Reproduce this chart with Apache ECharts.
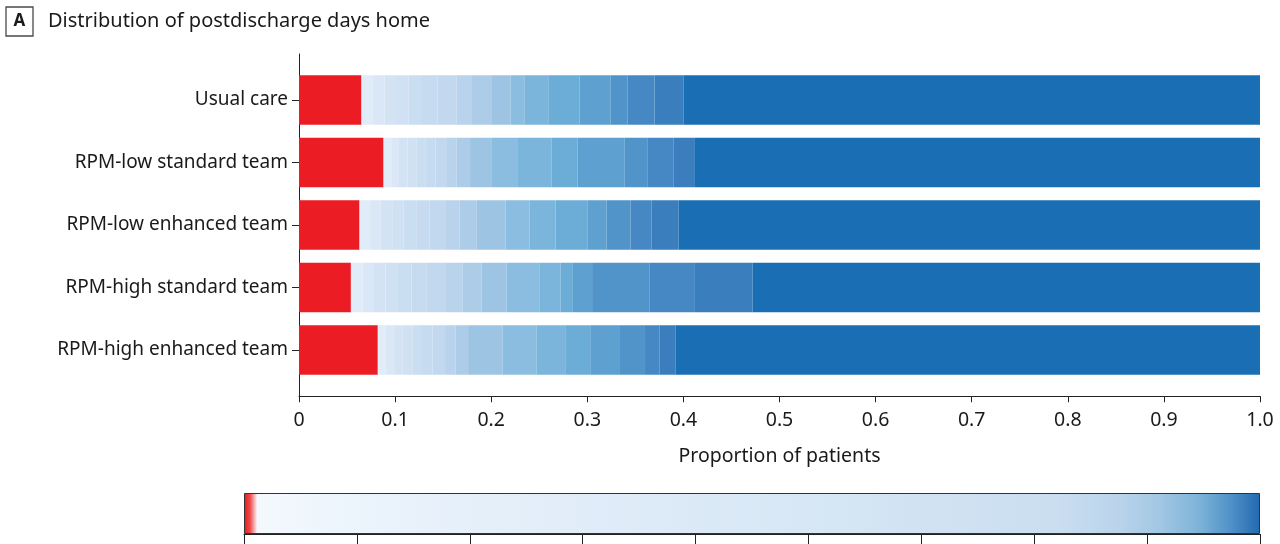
<!DOCTYPE html>
<html>
<head>
<meta charset="utf-8">
<script src="https://cdn.jsdelivr.net/npm/echarts@6/dist/echarts.min.js"></script>
<style>
html,body{margin:0;padding:0;background:#fff;}
#chart{width:1280px;height:544px;}
</style>
</head>
<body>
<div id="chart"></div>
<script>
// Groups (top to bottom)
const groups = ['Usual care', 'RPM-low standard team', 'RPM-low enhanced team', 'RPM-high standard team', 'RPM-high enhanced team'];

// Postdischarge days-home bins (0 = red ... 90 = dark blue)
const dayBins = ['0', '1–9', '10–19', '20–29', '30–39', '40–49', '50–59', '60–69', '70–74', '75–79', '80–82', '83', '84', '85', '86', '87', '88', '89', '90'];

// Proportion of patients in each bin, per group
const usualCare        = [0.065, 0.012, 0.012, 0.012, 0.013, 0.014, 0.016, 0.020, 0.016, 0.020, 0.020, 0.015, 0.025, 0.032, 0.032, 0.018, 0.028, 0.030, 0.600];
const lowStandard      = [0.088, 0.008, 0.008, 0.009, 0.009, 0.010, 0.010, 0.012, 0.010, 0.014, 0.022, 0.027, 0.036, 0.027, 0.049, 0.024, 0.027, 0.022, 0.588];
const lowEnhanced      = [0.063, 0.011, 0.011, 0.012, 0.012, 0.013, 0.014, 0.017, 0.014, 0.018, 0.030, 0.025, 0.027, 0.033, 0.020, 0.025, 0.022, 0.028, 0.605];
const highStandard     = [0.054, 0.012, 0.012, 0.012, 0.013, 0.014, 0.016, 0.020, 0.017, 0.020, 0.026, 0.034, 0.022, 0.013, 0.020, 0.060, 0.047, 0.060, 0.528];
const highEnhanced     = [0.082, 0.008, 0.009, 0.009, 0.010, 0.010, 0.011, 0.013, 0.011, 0.013, 0.036, 0.035, 0.030, 0.026, 0.031, 0.026, 0.015, 0.017, 0.608];

const groupValues = [usualCare, lowStandard, lowEnhanced, highStandard, highEnhanced];

// X axis ticks
const xTicks = [0, 0.1, 0.2, 0.3, 0.4, 0.5, 0.6, 0.7, 0.8, 0.9, 1.0];
// Colour-bar scale (days home)
const colorbarMax = 90;

// Styling
const binColors = ['#ec1c24', '#e0ecf8', '#d9e7f6', '#d3e3f4', '#cfe1f3', '#cadef1', '#c6dbef', '#c1d8ee', '#b8d3eb', '#accce7',
                   '#9dc4e3', '#8bbde0', '#7bb5dc', '#6badd7', '#5ea1d1', '#5094ca', '#4588c3', '#3a7ebe', '#1a6fb4'];
const FONT = 'Noto Sans';
const TXT = '#1a1a1a';

const chart = echarts.init(document.getElementById('chart'), null, {renderer: 'canvas'});

const barSeries = dayBins.map((b, i) => ({
  type: 'bar',
  name: b,
  stack: 'days',
  xAxisIndex: 0,
  yAxisIndex: 0,
  barWidth: 49.5,
  silent: true,
  data: groupValues.map(arr => arr[i]),
  itemStyle: {color: binColors[i]}
}));

const option = {
  animation: false,
  backgroundColor: '#fff',
  title: {
    left: 6,
    top: 7,
    padding: 0,
    text: '{box|A}{t|Distribution of postdischarge days home}',
    textStyle: {
      fontWeight: 'normal',
      rich: {
        box: {fontFamily: FONT, fontSize: 17, fontWeight: 'bold', color: TXT, borderColor: '#4a4a4a', borderWidth: 1.3,
              width: 13, height: 21, align: 'center', verticalAlign: 'middle', padding: [4, 7, 4, 7], lineHeight: 21},
        t: {fontFamily: FONT, fontSize: 20, fontWeight: 'normal', color: TXT, padding: [0, 0, 0, 15], lineHeight: 29, verticalAlign: 'middle'}
      }
    }
  },
  grid: [
    {left: 299, right: 20, top: 68.75, height: 312.5},
    {left: 299, right: 20, top: 54, height: 342},
    {left: 244, right: 20, top: 493, height: 41}
  ],
  xAxis: [
    {
      gridIndex: 0, type: 'value', min: 0, max: 1, interval: 0.1, offset: 15,
      axisLine: {show: true, lineStyle: {color: '#222', width: 1}},
      axisTick: {show: true, length: 6, lineStyle: {color: '#222'}},
      splitLine: {show: false},
      axisLabel: {fontFamily: FONT, fontSize: 19.5, color: TXT, margin: 14,
                  formatter: v => { const t = xTicks.find(x => Math.abs(x - v) < 1e-9); return t === 0 ? '0' : (t !== undefined ? t.toFixed(1) : ''); }},
      name: 'Proportion of patients', nameLocation: 'middle', nameGap: 50,
      nameTextStyle: {fontFamily: FONT, fontSize: 19.5, color: TXT}
    },
    {gridIndex: 1, type: 'value', min: 0, max: 1, show: false},
    {
      gridIndex: 2, type: 'value', min: 0, max: colorbarMax, interval: 10,
      axisLine: {show: true, lineStyle: {color: '#222', width: 1}},
      axisTick: {show: true, length: 12, lineStyle: {color: '#222'}},
      axisLabel: {show: false},
      splitLine: {show: false}
    }
  ],
  yAxis: [
    {
      gridIndex: 0, type: 'category', data: groups, inverse: true,
      axisLine: {show: false},
      axisTick: {show: true, length: 7, alignWithLabel: true, lineStyle: {color: '#222'}},
      axisLabel: {fontFamily: FONT, fontSize: 19, color: TXT, margin: 11}
    },
    {
      gridIndex: 1, type: 'value', min: 0, max: 1,
      axisLine: {show: true, lineStyle: {color: '#222', width: 1}},
      axisTick: {show: false}, axisLabel: {show: false}, splitLine: {show: false}
    },
    {
      gridIndex: 2, type: 'category', data: ['Days home'], show: false
    }
  ],
  series: barSeries.concat([
    {type: 'line', xAxisIndex: 1, yAxisIndex: 1, data: [], silent: true},
    {
      type: 'bar', xAxisIndex: 2, yAxisIndex: 2, barWidth: '100%', silent: true,
      data: [colorbarMax],
      itemStyle: {
        borderColor: '#333', borderWidth: 1,
        color: new echarts.graphic.LinearGradient(0, 0, 1, 0, [
          {offset: 0, color: '#e41a1c'},
          {offset: 0.006, color: '#ef4a4a'},
          {offset: 0.013, color: '#f4f9fe'},
          {offset: 0.1, color: '#ecf4fc'},
          {offset: 0.3, color: '#e2edf9'},
          {offset: 0.55, color: '#d7e7f5'},
          {offset: 0.8, color: '#cadef0'},
          {offset: 0.86, color: '#bad4eb'},
          {offset: 0.9, color: '#a3c8e4'},
          {offset: 0.94, color: '#7db3d9'},
          {offset: 0.97, color: '#5193c9'},
          {offset: 1, color: '#2369b0'}
        ])
      }
    }
  ])
};

chart.setOption(option);
</script>
</body>
</html>
